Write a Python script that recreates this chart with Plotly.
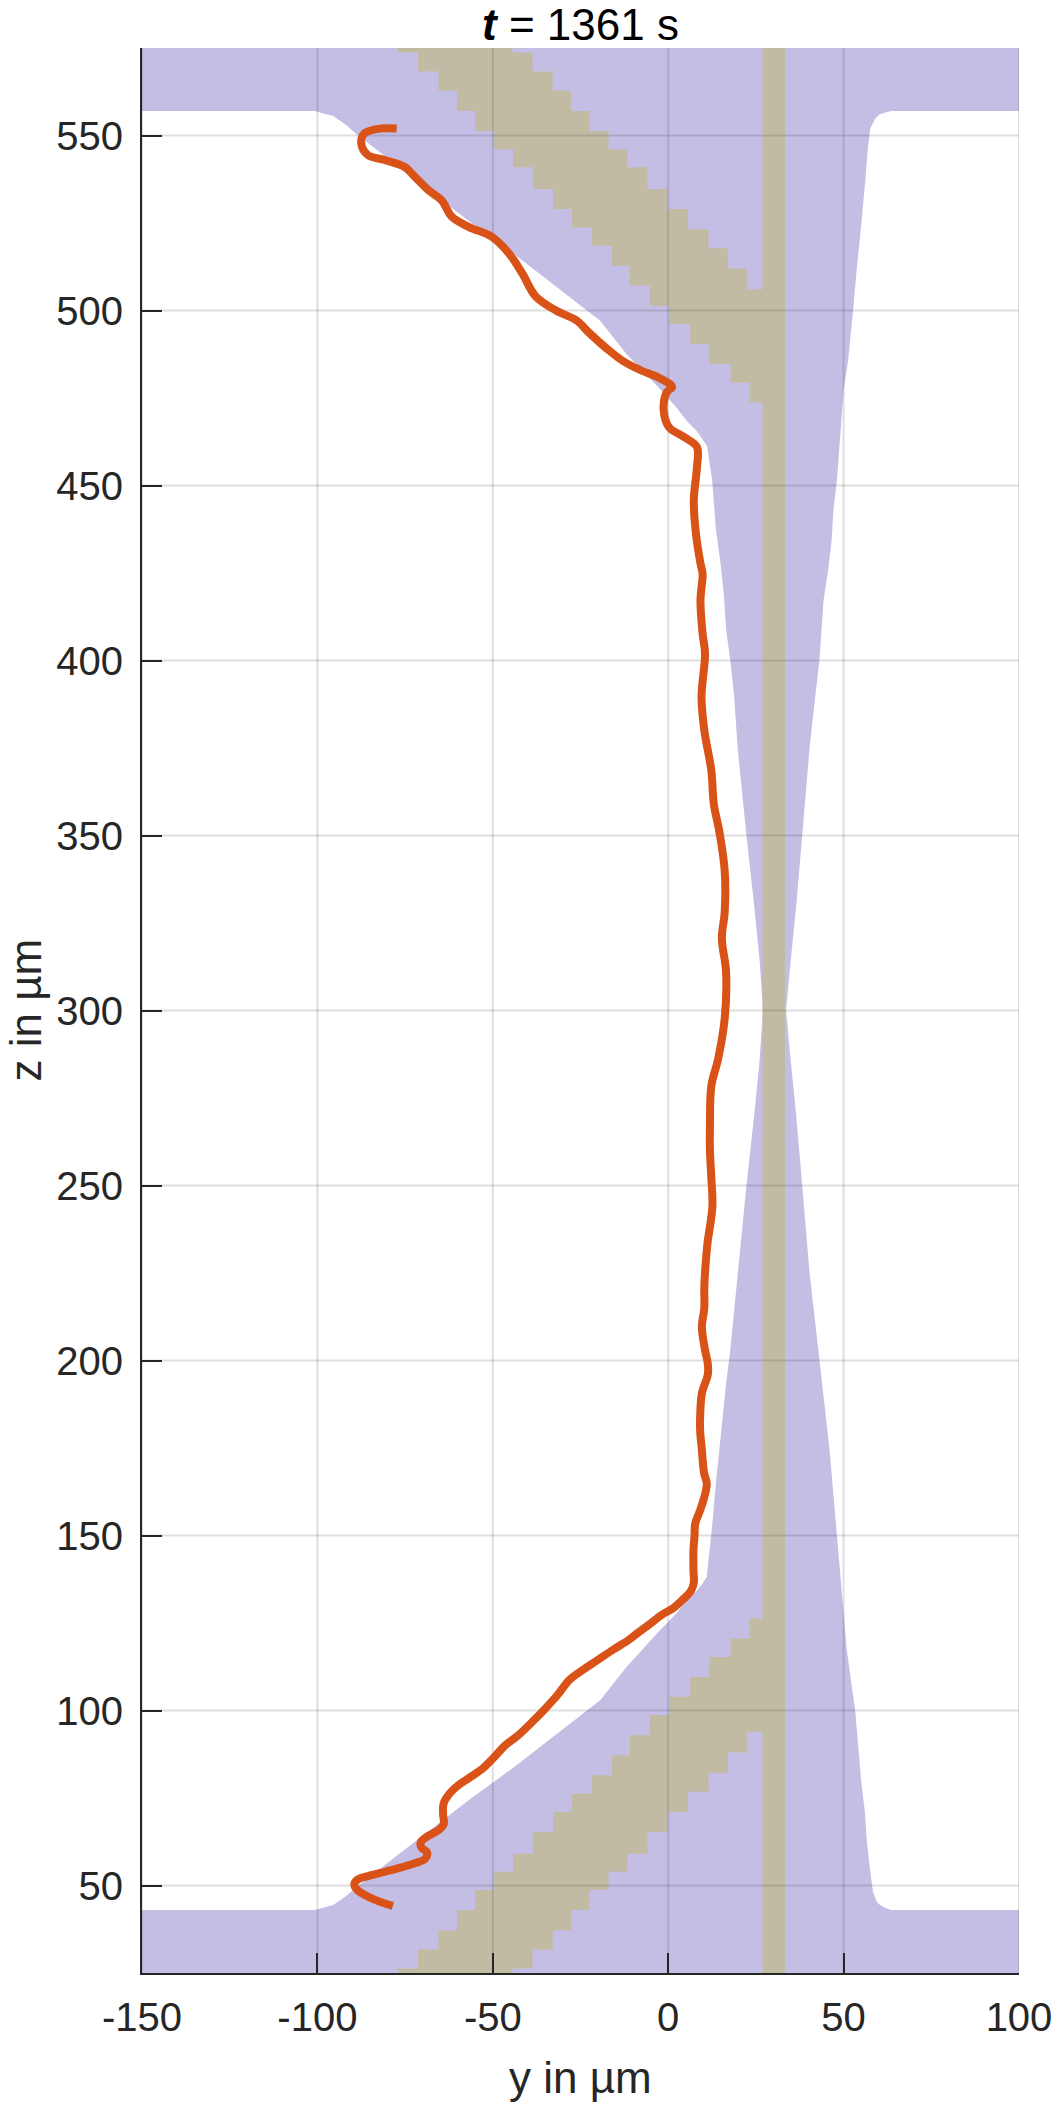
import plotly.graph_objects as go

# ---------------- data ----------------
x_ticks = [-150, -100, -50, 0, 50, 100]
x_tick_labels = ["-150", "-100", "-50", "0", "50", "100"]
z_ticks = [50, 100, 150, 200, 250, 300, 350, 400, 450, 500, 550]
z_tick_labels = ["50", "100", "150", "200", "250", "300", "350", "400", "450", "500", "550"]
x_range = [-150, 100]
z_range = [25, 575]

# purple region outline (y, z)
purple_y = [-150, 100, 100,
            63.6, 61.9, 60.2, 59.0, 57.6, 56.9, 56.2, 54.8, 53.8, 52.7, 51.3, 50.0, 49.4, 48.9, 48.1,
            47.1, 46.6, 45.6, 44.3, 43.7, 43.1, 41.8, 40.3, 38.2, 36.5, 35.0, 33.6, 35.0, 36.5, 38.2,
            40.3, 42.8, 44.5, 46.0, 48.1, 49.7, 50.9, 53.3, 54.2, 55.0, 56.1, 56.6, 57.6, 58.4, 59.4,
            60.2, 61.9, 63.6, 100, 100, -150, -150,
            -100.7, -98.4, -95.5, -93.6, -91.7, -89.0, -81.5, -69.5, -57.0, -44.0, -31.5, -19.4, -11.9,
            -6.6, -2.3, 2.4, 5.3, 8.2, 9.9, 11.0, 11.9, 12.7, 13.4, 14.3, 15.0, 16.5, 17.7, 19.8, 22.3,
            24.5, 26.0, 27.0, 26.0, 24.5, 22.3, 19.8, 18.8, 17.8, 16.5, 15.9, 14.9, 13.6, 12.5, 11.1,
            8.2, 5.3, 2.4, -2.3, -7.0, -11.9, -19.4, -31.5, -44.0, -57.0, -69.5, -81.5, -89.0, -91.7,
            -93.6, -95.5, -98.4, -100.7, -150]
purple_z = [580, 580, 557,
            557, 556.6, 556.0, 554.8, 552.0, 546.3, 537.2, 522, 512.5, 500, 485.8, 477.2, 468.6, 460, 451.5,
            443, 434.4, 425.9, 417.3, 408.7, 400, 388.7, 375, 350, 330, 315, 300, 285, 270, 250,
            225, 203, 188, 174.4, 150, 131.5, 117.3, 100, 88.7, 80, 70.7, 63, 54, 48.1, 45.5,
            44.6, 43.6, 43.0, 43, 20, 20, 43,
            43, 43.7, 44.4, 45.7, 47.1, 49.5, 55.3, 64.8, 74.3, 83.8, 93.4, 102.9, 112.4,
            118.3, 123.0, 127.8, 131.6, 134.3, 136.4, 138.2, 145.9, 154.4, 163, 171.5, 180, 193.4, 203, 225, 250,
            270, 285, 300, 315, 330, 350, 375, 389.8, 399.3, 408.9, 418.4, 427.9, 437.4, 451.7, 461.2,
            465.5, 468.4, 472.2, 477.5, 482.5, 487.6, 497.1, 506.6, 516.2, 525.7, 535.2, 544.7, 550.5, 552.9,
            554.3, 555.6, 556.3, 557, 557]

# lower diagonal tan stripe (stair edges)
low_a_y = [-82.5, -77.0, -71.3, -65.5, -60.2, -55.0, -49.6, -44.2, -38.5, -32.8, -27.5, -21.8, -16.1,
           -10.9, -5.2, 0.4, 6.3, 11.7, 17.8, 23.2, 30.0]
low_a_z = [20.5, 26.3, 31.7, 37.2, 43.0, 48.7, 53.9, 59.1, 65.3, 71.0, 76.3, 81.5, 87.2,
           92.9, 98.7, 103.9, 109.6, 115.3, 120.6, 126.3, 128.0]
low_b_y = [-49.9, -44.4, -38.7, -32.9, -27.6, -22.4, -17.0, -11.6, -5.9, -0.2, 5.6, 11.5, 17.0, 22.4, 30.0]
low_b_z = [20.5, 26.3, 31.7, 37.2, 43.0, 48.7, 53.9, 59.1, 65.3, 71.0, 76.8, 82.2, 88.0, 93.9, 95.0]

# upper diagonal tan stripe (stair edges)
up_a_y = [-82.5, -77.0, -71.3, -65.5, -60.2, -55.0, -49.6, -44.2, -38.5, -32.8, -27.5, -21.8, -16.1,
          -10.9, -5.2, 0.4, 6.3, 11.7, 17.8, 23.2, 30.0]
up_a_z = [579.5, 573.7, 568.3, 562.8, 557.0, 551.3, 546.1, 540.9, 534.7, 529.0, 523.7, 518.5, 512.8,
          507.1, 501.3, 496.1, 490.4, 484.7, 479.4, 473.7, 472.0]
up_b_y = [-49.9, -44.4, -38.7, -32.9, -27.6, -22.4, -17.0, -11.6, -5.9, -0.2, 5.6, 11.5, 17.0, 22.4, 30.0]
up_b_z = [579.5, 573.7, 568.3, 562.8, 557.0, 551.3, 546.1, 540.9, 534.7, 529.0, 523.2, 517.8, 512.0, 506.1, 505.0]

# vertical tan band
band_y = [26.9, 33.3]
band_z = [20, 580]

# interface line (orange)
line_y = [-78.5, -82.0, -85.5, -88.5, -89.5, -88.5, -85.5, -80.5, -76.0, -72.0, -69.3, -68.7, -70.3, -70.6,
          -69.0, -65.5, -64.0, -64.2, -64.0, -62.3, -59.5, -56.5, -52.8, -49.5, -46.5, -43.0, -39.0, -35.0,
          -31.5, -28.2, -24.5, -20.0, -15.5, -11.5, -8.5, -5.5, -2.0, 1.5, 4.3, 6.5, 7.3, 7.2, 7.2, 7.5, 7.7,
          9.1, 10.3, 11.0, 10.2, 9.6, 9.1, 9.1, 9.6, 11.3, 11.3, 10.5, 9.6, 10.3, 10.3, 11.1, 12.6, 12.3,
          11.9, 11.9, 12.3, 14.2, 16.1, 16.5, 15.3, 16.1, 16.1, 14.6, 13.0, 12.3, 10.3, 9.5, 10.5, 9.8,
          9.2, 9.8, 9.2, 7.9, 7.3, 8.2, 8.2, 4.4, 0.2, -1.3, -0.4, 1.1, -2.3, -8.0, -12.8, -17.6, -22.4,
          -26.2, -32.0, -37.7, -41.6, -45.4, -50.2, -56.9, -61.7, -64.6, -68.4, -72.2, -75.1, -80.8, -85.6,
          -87.5, -86.6, -81.8, -77.4]
line_z = [44.2, 45.3, 46.8, 48.6, 50.3, 51.7, 52.7, 54.0, 55.2, 56.4, 57.6, 59.4, 60.8, 62.2,
          63.8, 65.8, 67.5, 70.5, 73.5, 76.3, 78.9, 80.9, 83.5, 86.8, 90.0, 92.7, 96.5, 100.6,
          104.5, 108.7, 111.5, 114.5, 117.5, 120.0, 122.3, 124.5, 127.2, 129.3, 131.8, 134.2, 136.5, 140.0, 145.8, 150.0, 153.4,
          157.2, 161.0, 164.8, 168.0, 174.4, 180.0, 183.9, 190.6, 196.0, 199.0, 203.0, 209.6, 215.0, 221.0, 232.6, 244.0, 252.0,
          260.0, 267.0, 278.5, 286.0, 297.7, 311.0, 320.7, 328.0, 340.0, 351.0, 359.0, 368.5, 380.0, 389.6, 402.0, 407.7,
          417.2, 424.8, 427.7, 436.3, 445.8, 455.3, 461.0, 463.9, 466.7, 471.5, 476.7, 478.2, 480.6, 483.0, 485.5, 489.2, 493.5,
          497.2, 500.0, 503.9, 510.6, 516.3, 521.0, 523.9, 526.8, 531.5, 534.4, 538.2, 541.0, 543.0, 544.4,
          547.7, 550.6, 552.0, 552.0]

title_text = "<b><i>t</i></b> = 1361 s"
x_label = "y in µm"
z_label = "z in µm"

# ---------------- styles ----------------
PURPLE = "#C4BEE5"
TAN = "#C2BBA4"
ORANGE = "#D95319"
AX = "#262626"
FONT = "Arial, Liberation Sans, Helvetica, sans-serif"

fig = go.Figure()

fig.add_trace(go.Scatter(x=purple_y, y=purple_z, mode="lines", fill="toself",
                         fillcolor=PURPLE, line=dict(width=0), hoverinfo="skip", showlegend=False))

for ay, az, by, bz in [(low_b_y, low_b_z, low_a_y, low_a_z), (up_b_y, up_b_z, up_a_y, up_a_z)]:
    fig.add_trace(go.Scatter(x=ay, y=az, mode="lines", line=dict(width=0, shape="hv"),
                             hoverinfo="skip", showlegend=False))
    fig.add_trace(go.Scatter(x=by, y=bz, mode="lines", line=dict(width=0, shape="hv"),
                             fill="tonexty", fillcolor=TAN, hoverinfo="skip", showlegend=False))

fig.add_trace(go.Scatter(x=[band_y[0], band_y[1], band_y[1], band_y[0]],
                         y=[band_z[0], band_z[0], band_z[1], band_z[1]],
                         mode="lines", fill="toself", fillcolor=TAN, line=dict(width=0),
                         hoverinfo="skip", showlegend=False))

# grid lines drawn above patches
gx, gy = [], []
for t in x_ticks:
    gx += [t, t, None]
    gy += [z_range[0], z_range[1], None]
for t in z_ticks:
    gx += [x_range[0], x_range[1], None]
    gy += [t, t, None]
fig.add_trace(go.Scatter(x=gx, y=gy, mode="lines", line=dict(color="rgba(38,38,38,0.15)", width=2),
                         hoverinfo="skip", showlegend=False, cliponaxis=False))

fig.add_trace(go.Scatter(x=line_y, y=line_z, mode="lines",
                         line=dict(color=ORANGE, width=8, shape="spline", smoothing=1.0),
                         hoverinfo="skip", showlegend=False))

axis_common = dict(showgrid=False, zeroline=False, showline=True, linecolor=AX, linewidth=2,
                   ticks="inside", ticklen=20, tickwidth=2, tickcolor=AX, layer="above traces",
                   tickfont=dict(family=FONT, size=40, color=AX), mirror=False,
                   ticklabeloverflow="allow", automargin=False)

fig.update_layout(
    width=1051, height=2103, autosize=False,
    margin=dict(l=142, r=32, t=48, b=130, autoexpand=False),
    paper_bgcolor="white", plot_bgcolor="white",
    xaxis=dict(range=x_range, tickvals=x_ticks, ticktext=x_tick_labels, ticklabelstandoff=8, **axis_common),
    yaxis=dict(range=z_range, tickvals=z_ticks, ticktext=z_tick_labels, ticklabelstandoff=9, **axis_common),
    annotations=[
        dict(text=title_text, x=0.5, y=1, xref="paper", yref="paper", xanchor="center", yanchor="middle",
             yshift=24, showarrow=False, font=dict(family=FONT, size=44, color="black")),
        dict(text=x_label, x=0.5, y=0, xref="paper", yref="paper", xanchor="center", yanchor="middle",
             yshift=-104, showarrow=False, font=dict(family=FONT, size=44, color=AX)),
        dict(text=z_label, x=0, y=0.5, xref="paper", yref="paper", xanchor="center", yanchor="middle",
             xshift=-117, textangle=-90, showarrow=False, font=dict(family=FONT, size=44, color=AX)),
    ],
)

fig.write_html("out.html", config={"displayModeBar": False},
               post_script="document.body.style.margin='0px';document.body.style.overflow='hidden';")
